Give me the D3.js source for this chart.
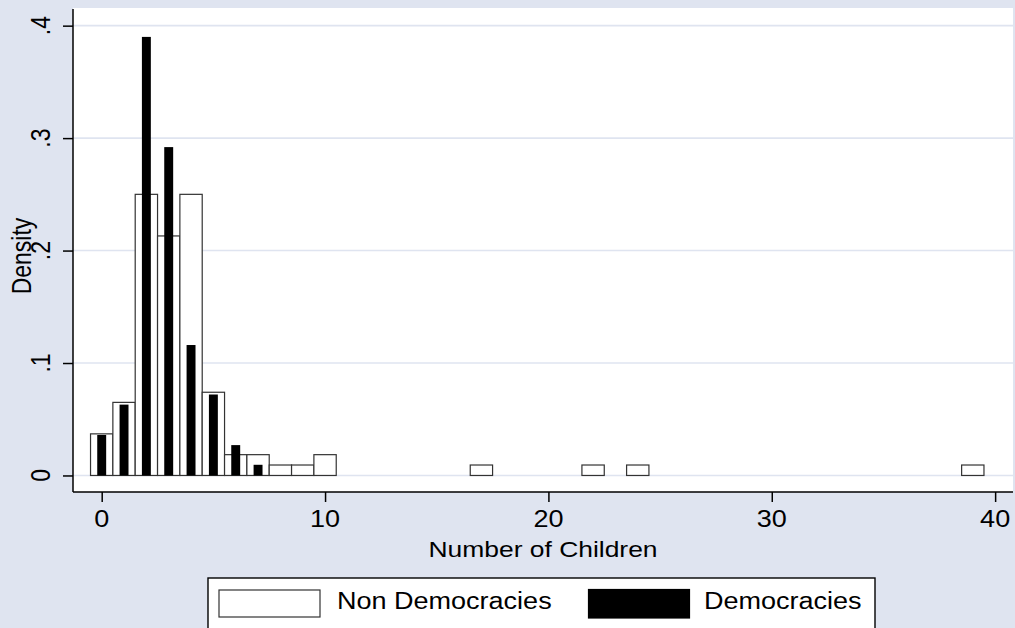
<!DOCTYPE html>
<html>
<head>
<meta charset="utf-8">
<script src="https://cdn.jsdelivr.net/npm/d3@7"></script>
<style>
  html, body { margin: 0; padding: 0; background: #dfe4f0; }
  svg { display: block; }
  text { font-family: "Liberation Sans", Arial, Helvetica, sans-serif; fill: #000; }
</style>
</head>
<body>
<svg id="chart" width="1015" height="628"></svg>
<script>
// Histogram data: density of number of children by regime type
const nonDemChildren = [0, 1, 2, 3, 4, 5, 6, 7, 8, 9, 10, 17, 22, 24, 39];
const nonDemDensity  = [0.037, 0.065, 0.25, 0.213, 0.25, 0.074, 0.0185, 0.0185, 0.0093, 0.0093, 0.0185, 0.0093, 0.0093, 0.0093, 0.0093];
const demChildren = [0, 1, 2, 3, 4, 5, 6, 7];
const demDensity  = [0.036, 0.063, 0.390, 0.292, 0.116, 0.072, 0.027, 0.0095];

const xTickValues = [0, 10, 20, 30, 40];
const xTickLabels = ["0", "10", "20", "30", "40"];
const yTickValues = [0, 0.1, 0.2, 0.3, 0.4];
const yTickLabels = ["0", ".1", ".2", ".3", ".4"];

const legendLabels = ["Non Democracies", "Democracies"];

const W = 1015, H = 628;
const bg = "#dfe4f0";
const SX = 1.175;            // horizontal text stretch of the graph canvas
const plot = { left: 73, right: 1013, top: 8, bottom: 492 };

const svg = d3.select("#chart");

const x = d3.scaleLinear().domain([-1.285, 40.8]).range([plot.left, plot.right]);
const y = d3.scaleLinear().domain([-0.0147, 0.4157]).range([plot.bottom, plot.top]);

// background
svg.append("rect").attr("width", W).attr("height", H).attr("fill", bg);

// plot region
svg.append("rect")
  .attr("x", plot.left).attr("y", plot.top)
  .attr("width", plot.right - plot.left).attr("height", plot.bottom - plot.top)
  .attr("fill", "#fff");

// gridlines
svg.append("g").selectAll("line").data(yTickValues).join("line")
  .attr("x1", plot.left).attr("x2", plot.right)
  .attr("y1", d => y(d)).attr("y2", d => y(d))
  .attr("stroke", bg).attr("stroke-width", 1.6);

// Non democracies: outlined bars, width 1
const barW = x(1) - x(0);
svg.append("g").selectAll("rect").data(nonDemChildren).join("rect")
  .attr("x", (d) => x(d - 0.5))
  .attr("y", (d, i) => y(nonDemDensity[i]))
  .attr("width", barW)
  .attr("height", (d, i) => y(0) - y(nonDemDensity[i]))
  .attr("fill", "#fff")
  .attr("stroke", "#333")
  .attr("stroke-width", 1.2);

// Democracies: solid narrow bars
const demW = 0.4;
svg.append("g").selectAll("rect").data(demChildren).join("rect")
  .attr("x", (d) => x(d - demW / 2))
  .attr("y", (d, i) => y(demDensity[i]))
  .attr("width", x(demW) - x(0))
  .attr("height", (d, i) => y(0) - y(demDensity[i]))
  .attr("fill", "#000");

// axes
const xAxis = d3.axisBottom(x).tickValues(xTickValues).tickSize(10).tickSizeOuter(0).tickFormat("");
const yAxis = d3.axisLeft(y).tickValues(yTickValues).tickSize(10).tickSizeOuter(0).tickFormat("");

const gx = svg.append("g").attr("transform", `translate(0,${plot.bottom})`).call(xAxis);
const gy = svg.append("g").attr("transform", `translate(${plot.left},0)`).call(yAxis);
[gx, gy].forEach(g => {
  g.select(".domain").attr("stroke", "#000").attr("stroke-width", 1.5);
  g.selectAll(".tick line").attr("stroke", "#000").attr("stroke-width", 1.5);
});
// restrict axis lines to the plot region
gx.select(".domain").attr("d", `M${plot.left},0H${plot.right}`);
gy.select(".domain").attr("d", `M0,${plot.top + 1}V${plot.bottom}`);

// x tick labels
svg.append("g").selectAll("text").data(xTickValues).join("text")
  .attr("transform", d => `translate(${x(d)},527) scale(${SX},1)`)
  .attr("text-anchor", "middle")
  .attr("font-size", 23)
  .text((d, i) => xTickLabels[i]);

// y tick labels (rotated)
svg.append("g").selectAll("text").data(yTickValues).join("text")
  .attr("transform", d => `translate(50,${y(d)}) scale(${SX},1) rotate(-90)`)
  .attr("text-anchor", "middle")
  .attr("font-size", 23)
  .text((d, i) => yTickLabels[i]);

// axis titles
svg.append("text")
  .attr("transform", `translate(${(plot.left + plot.right) / 2},557) scale(${SX},1)`)
  .attr("text-anchor", "middle")
  .attr("font-size", 22.5)
  .text("Number of Children");

svg.append("text")
  .attr("transform", `translate(31,256) scale(${SX},1) rotate(-90)`)
  .attr("text-anchor", "middle")
  .attr("font-size", 23)
  .text("Density");

// legend
const lg = svg.append("g");
lg.append("rect")
  .attr("x", 208).attr("y", 578).attr("width", 667).attr("height", 80)
  .attr("fill", "#fff").attr("stroke", "#000").attr("stroke-width", 1.4);

const legendKeys = [
  { swatch: { x: 219, y: 590, w: 101, h: 27 }, fill: "#fff", stroke: "#333", tx: 337 },
  { swatch: { x: 588.5, y: 589.5, w: 101, h: 28.5 }, fill: "#000", stroke: "#000", tx: 704 }
];
legendKeys.forEach((k, i) => {
  lg.append("rect")
    .attr("x", k.swatch.x).attr("y", k.swatch.y)
    .attr("width", k.swatch.w).attr("height", k.swatch.h)
    .attr("fill", k.fill).attr("stroke", k.stroke).attr("stroke-width", 1.2);
  lg.append("text")
    .attr("transform", `translate(${k.tx},608.5) scale(${SX},1)`)
    .attr("font-size", 23)
    .text(legendLabels[i]);
});
</script>
</body>
</html>
